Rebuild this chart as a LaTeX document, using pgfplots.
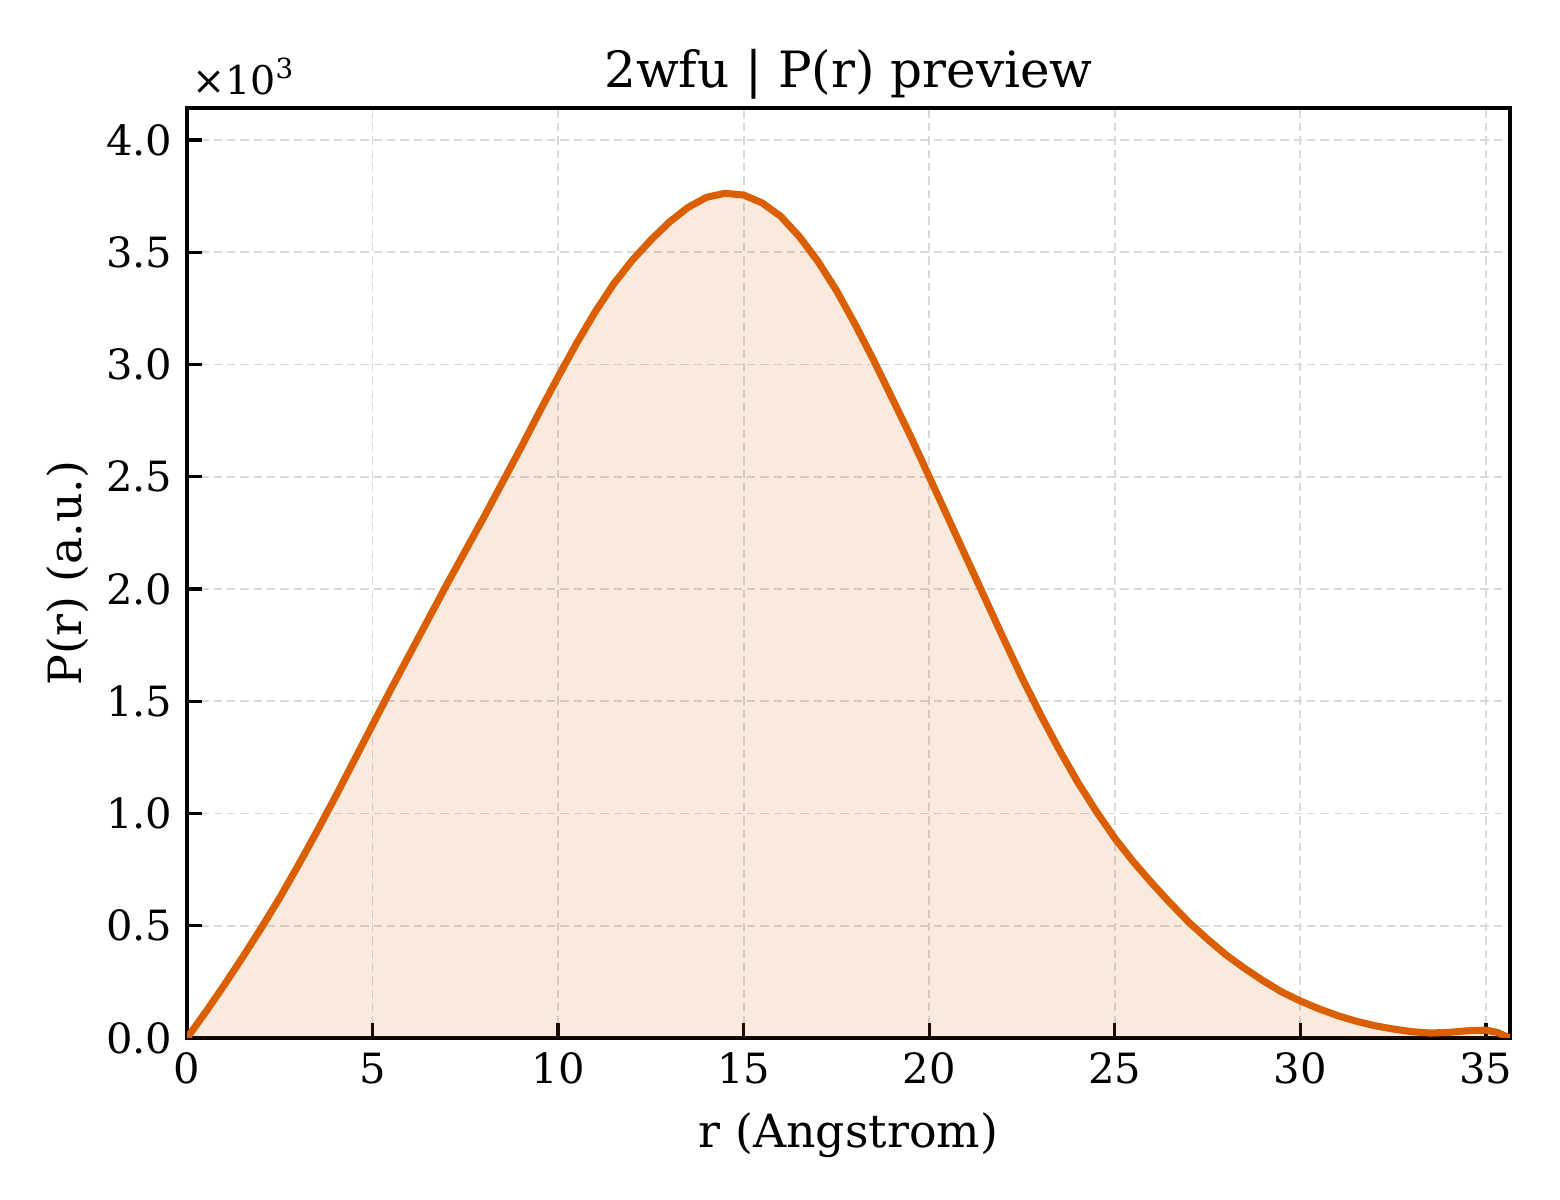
\documentclass[border=0pt]{standalone}
\usepackage{fontspec}
\setmainfont{DejaVu Serif}
\usepackage{pgfplots}
\usepackage{pgfplotstable}
\pgfplotsset{compat=1.18}
\definecolor{curve}{HTML}{D95F02}
\definecolor{gridc}{HTML}{D9D9D9}

% P(r) read off the preview, r in Angstrom
\pgfplotstableread{
r     p
0     0
0.5   115
1     235
1.5   360
2     490
2.5   625
3     770
3.5   920
4     1075
4.5   1235
5     1395
5.5   1555
6     1710
6.5   1865
7     2020
7.5   2170
8     2320
8.5   2475
9     2630
9.5   2790
10    2945
10.5  3095
11    3235
11.5  3360
12    3465
12.5  3555
13    3635
13.5  3700
14    3745
14.5  3763
15    3755
15.5  3720
16    3660
16.5  3570
17    3460
17.5  3330
18    3180
18.5  3020
19    2850
19.5  2680
20    2500
20.5  2320
21    2140
21.5  1960
22    1780
22.5  1605
23    1440
23.5  1285
24    1140
24.5  1010
25    890
25.5  785
26    690
26.5  600
27    515
27.5  440
28    370
28.5  310
29    255
29.5  205
30    165
30.5  130
31    100
31.5  75
32    55
32.5  40
33    28
33.5  22
34    25
34.5  32
35    35
35.3  25
35.65 0
}\prdata

\begin{document}
\begin{tikzpicture}
\path[use as bounding box] (-44.88pt,-38.88pt) rectangle (329.52pt,249.12pt);
\begin{axis}[
    at={(0pt,0pt)}, anchor=south west,
    scale only axis,
    width=317.52pt, height=223.2pt,
    xmin=0, xmax=35.65,
    ymin=0, ymax=4143,
    xtick distance=5,
    ytick={0,500,1000,1500,2000,2500,3000,3500,4000},
    scaled y ticks=base 10:-3,
    ytick scale label code/.code={},
    yticklabel style={/pgf/number format/.cd, fixed, fixed zerofill, precision=1},
    /pgf/number format/assume math mode=true,
    tick align=inside,
    xtick pos=bottom, ytick pos=left,
    major tick length=3.6pt,
    tick style={black, line width=0.8pt},
    axis line style={black, line width=1pt},
    grid=major,
    major grid style={gridc, line width=0.45pt, dash pattern=on 2pt off 1.2pt},
    tick label style={font=\fontsize{10}{12}\selectfont},
    label style={font=\fontsize{11}{13}\selectfont},
    xlabel={r (Angstrom)},
    ylabel={P(r) (a.u.)},
    ylabel style={yshift=-2.6pt},
    title={2wfu | P(r) preview},
    title style={font=\fontsize{12}{14}\selectfont, at={(0.5,1)}, anchor=base, yshift=-1pt},
    clip mode=individual,
]
\addplot[draw=none, fill=curve, fill opacity=0.13] table[x=r, y=p] {\prdata} \closedcycle;
\addplot[curve, line width=1.7pt, line join=round] table[x=r, y=p] {\prdata};
\end{axis}
\node[anchor=south west, inner sep=0pt, font=\fontsize{9.5}{10}\selectfont]
  at (1pt,226.2pt) {×10\textsuperscript{3}};
\end{tikzpicture}
\end{document}
